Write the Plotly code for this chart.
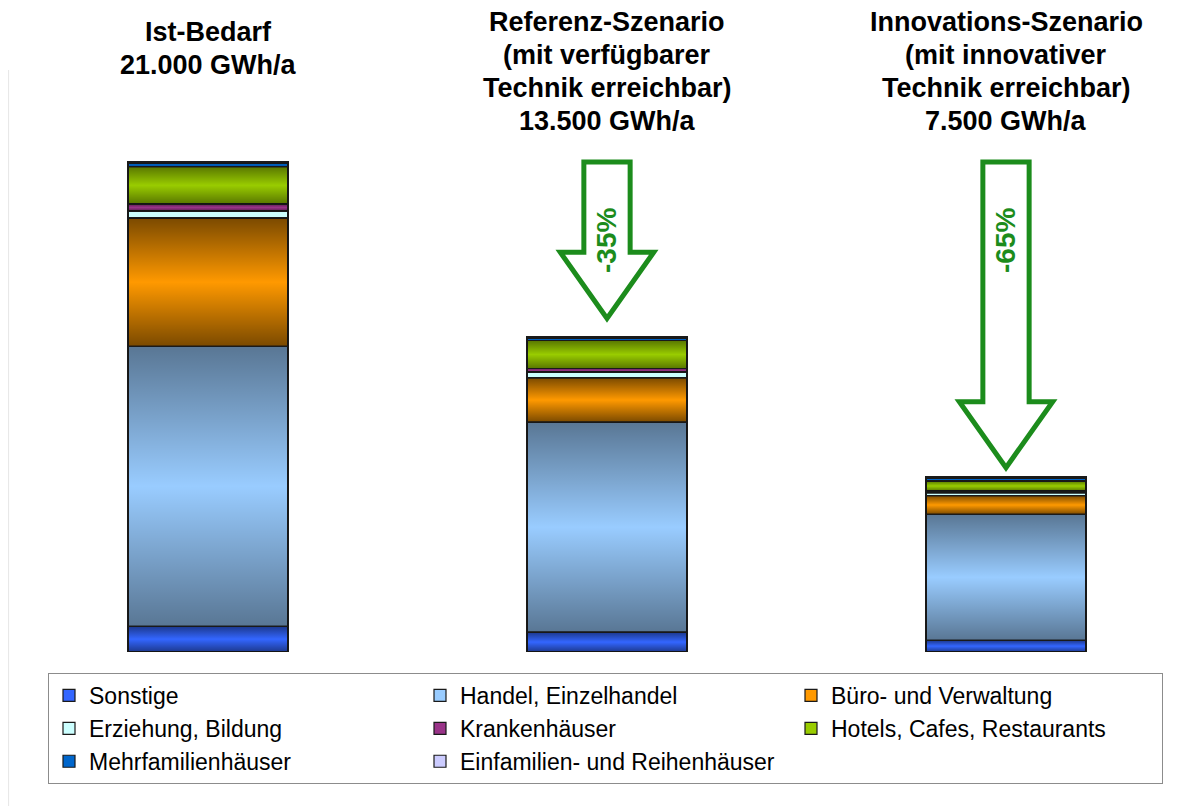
import plotly.graph_objects as go

# ---------------- data ----------------
scenarios = ["Ist-Bedarf", "Referenz-Szenario", "Innovations-Szenario"]
scenario_titles = [
    ["Ist-Bedarf", "21.000 GWh/a"],
    ["Referenz-Szenario", "(mit verfügbarer", "Technik erreichbar)", "13.500 GWh/a"],
    ["Innovations-Szenario", "(mit innovativer", "Technik erreichbar)", "7.500 GWh/a"],
]
categories = [
    "Sonstige",
    "Handel, Einzelhandel",
    "Büro- und Verwaltung",
    "Erziehung, Bildung",
    "Krankenhäuser",
    "Hotels, Cafes, Restaurants",
    "Mehrfamilienhäuser",
    "Einfamilien- und Reihenhäuser",
]
sonstige = [1100, 850, 500]
handel = [12000, 9000, 5400]
buero = [5500, 1900, 800]
erziehung = [300, 250, 120]
krankenhaeuser = [300, 150, 80]
hotels = [1600, 1200, 430]
mehrfamilien = [150, 100, 120]
einfamilien = [50, 50, 50]
reduction_labels = ["-35%", "-65%"]

series = [sonstige, handel, buero, erziehung, krankenhaeuser, hotels, mehrfamilien, einfamilien]

# ---------------- style ----------------
colors = ["#3366ff", "#99ccff", "#ff9900", "#ccffff", "#993388", "#99cc00", "#0066cc", "#ccccff"]
shade = [0.45, 0.42, 0.52, 0.0, 0.4, 0.42, 0.35, 0.0]
green = "#1c8c1c"
font_family = "Liberation Sans, Arial, sans-serif"

W, H = 1189, 806
x_pos = [0, 1, 2]
bar_w = 0.401
x0_px, x_step_px = 200, 399          # figure pixels (page adds 8px body margin)
bottom_px, px_per_unit = 644, 490 / 21000
y_max = 22000
x_left = -x0_px / x_step_px
x_right = (W - x0_px) / x_step_px

fig = go.Figure()

for name, vals, col in zip(categories, series, colors):
    fig.add_trace(go.Bar(
        x=x_pos, y=vals, name=name, width=bar_w,
        marker=dict(color=col, line=dict(color="#1a1a1a", width=1.2)),
        hovertemplate="%{y}<extra>" + name + "</extra>",
    ))

# cylinder-like vertical shading over every segment
base = [0, 0, 0]
for vals, s in zip(series, shade):
    for j, xc in enumerate(x_pos):
        b0 = base[j]
        b1 = b0 + vals[j]
        dark = f"rgba(0,0,0,{s})"
        fig.add_trace(go.Scatter(
            x=[xc - bar_w / 2, xc + bar_w / 2, xc + bar_w / 2, xc - bar_w / 2, xc - bar_w / 2],
            y=[b0, b0, b1, b1, b0],
            mode="lines", line=dict(color="#1a1a1a", width=1.2),
            fill="toself",
            fillgradient=dict(type="vertical",
                              colorscale=[[0, dark], [0.5, "rgba(0,0,0,0)"], [1, dark]]),
            showlegend=False, hoverinfo="skip",
        ))
    base = [base[j] + vals[j] for j in range(3)]

totals = base

# reduction arrows
shaft_hw, head_hw = 0.058, 0.117
head_h = 66 / px_per_unit
tip_gap = [800, 400]
shapes = []
annotations = []
for k, lab in enumerate(reduction_labels):
    xc = x_pos[k + 1]
    top = totals[0]
    tip = totals[k + 1] + tip_gap[k]
    hb = tip + head_h
    path = (f"M {xc - shaft_hw},{top} L {xc + shaft_hw},{top} L {xc + shaft_hw},{hb} "
            f"L {xc + head_hw},{hb} L {xc},{tip} L {xc - head_hw},{hb} L {xc - shaft_hw},{hb} Z")
    shapes.append(dict(type="path", path=path, xref="x", yref="y",
                       line=dict(color=green, width=5), fillcolor="rgba(0,0,0,0)"))
    annotations.append(dict(x=xc, y=(bottom_px - 233) / px_per_unit, xref="x", yref="y",
                            text=f"<b>{lab}</b>", showarrow=False, textangle=-90,
                            font=dict(family=font_family, size=28, color=green)))

# scenario titles, one annotation per line
title_first_px = [24, 14, 14]
title_step_px = 33
for j, lines in enumerate(scenario_titles):
    for i, line in enumerate(lines):
        yc = title_first_px[j] + i * title_step_px
        annotations.append(dict(x=x_pos[j], y=1 - yc / H, xref="x", yref="paper",
                                yanchor="middle", text=f"<b>{line}</b>", showarrow=False,
                                font=dict(family=font_family, size=27, color="black")))

# faint left frame line
shapes.append(dict(type="line", xref="paper", yref="paper", x0=0.6 / W, x1=0.6 / W,
                   y0=0, y1=1 - 62 / H, line=dict(color="#e6e6e6", width=1)))

fig.update_layout(
    width=W, height=H,
    margin=dict(l=0, r=0, t=0, b=0),
    paper_bgcolor="white", plot_bgcolor="white",
    barmode="stack",
    xaxis=dict(range=[x_left, x_right], domain=[0, 1], visible=False, fixedrange=True),
    yaxis=dict(range=[0, y_max], domain=[(H - bottom_px) / H, (H - (bottom_px - y_max * px_per_unit)) / H],
               visible=False, fixedrange=True),
    showlegend=True,
    legend=dict(orientation="h", x=40 / W, y=1 - 665 / H, xanchor="left", yanchor="top",
                bordercolor="#8c8c8c", borderwidth=1, bgcolor="white",
                font=dict(family=font_family, size=23, color="black"),
                entrywidth=326, entrywidthmode="pixels", traceorder="normal"),
    shapes=shapes,
    annotations=annotations,
)

fig.write_html("out.html")
